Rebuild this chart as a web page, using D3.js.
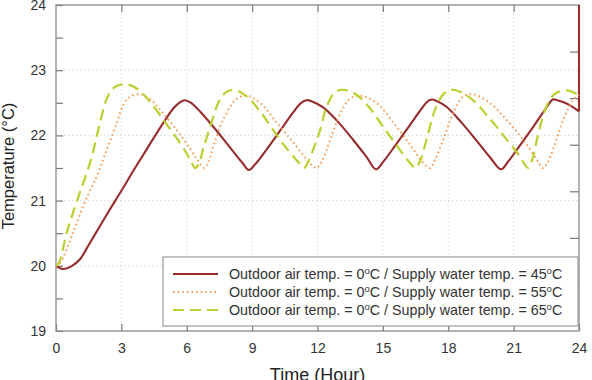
<!DOCTYPE html>
<meta charset="utf-8">
<style>
body { margin: 0; background: #fff; }
text { font-family: "Liberation Sans", Arial, sans-serif; }
.grid line { stroke: #d9d9d9; stroke-dasharray: 1.5,2.5; }
</style>
<body>
<script src="https://cdn.jsdelivr.net/npm/d3@7/dist/d3.min.js"></script>
<script>

// time (hour) and room temperature (°C)
var hours45 = [0, 0.35, 0.7, 1.1, 1.5, 2.0, 2.5, 3.0, 3.5, 4.0, 4.5, 5.0, 5.4, 5.7, 5.9, 6.2, 6.6, 7.2, 7.9, 8.55, 8.85,
    9.15, 9.7, 10.3, 10.9, 11.25, 11.5, 11.75, 12.26, 12.88, 13.64, 14.25, 14.68, 15.05, 15.6, 16.2, 16.8, 17.05, 17.25,
    17.45, 17.92, 18.6, 19.3, 19.95, 20.42, 20.75, 21.3, 21.9, 22.45, 22.8, 23.0, 23.43, 24, 24];
var temp45 = [20.0, 19.95, 19.99, 20.1, 20.32, 20.6, 20.88, 21.15, 21.43, 21.7, 21.97, 22.23, 22.42, 22.51, 22.54,
    22.5, 22.37, 22.14, 21.85, 21.58, 21.47, 21.56, 21.8, 22.08, 22.36, 22.5, 22.54, 22.52, 22.43, 22.23, 21.93, 21.67,
    21.48, 21.61, 21.86, 22.14, 22.42, 22.52, 22.55, 22.53, 22.44, 22.2, 21.92, 21.65, 21.48, 21.6, 21.85, 22.13, 22.4,
    22.55, 22.54, 22.49, 22.37, 24];

var hours55 = [0, 0.2, 0.75, 1.28, 1.9, 2.35, 2.8, 3.1, 3.43, 3.9, 4.35, 4.77, 5.54, 6.15, 6.5, 6.8, 7.0, 7.25, 7.7,
    8.25, 8.75, 9.36, 10.12, 10.89, 11.5, 11.75, 11.96, 12.2, 12.6, 13.05, 13.49, 13.94, 14.7, 15.47, 16.24, 16.85,
    17.16, 17.4, 17.8, 18.25, 18.7, 19.14, 19.9, 20.67, 21.44, 22.05, 22.35, 22.55, 22.85, 23.3, 23.73, 24];
var temp55 = [20.0, 20.05, 20.48, 20.94, 21.4, 21.8, 22.2, 22.48, 22.6, 22.63, 22.55, 22.4, 22.08, 21.8, 21.62, 21.5,
    21.6, 21.87, 22.26, 22.55, 22.61, 22.5, 22.2, 21.89, 21.63, 21.54, 21.5, 21.6, 21.95, 22.34, 22.56, 22.61, 22.5,
    22.2, 21.86, 21.58, 21.5, 21.63, 21.96, 22.36, 22.6, 22.63, 22.5, 22.24, 21.93, 21.64, 21.5, 21.58, 21.82, 22.26,
    22.54, 22.62];

var hours65 = [0, 0.14, 0.52, 1.05, 1.6, 1.95, 2.35, 2.65, 2.97, 3.3, 3.7, 4.04, 4.4, 5.08, 5.7, 6.0, 6.2, 6.38, 6.55,
    6.76, 7.14, 7.45, 7.8, 8.13, 8.75, 9.36, 9.97, 10.58, 11.2, 11.38, 11.55, 11.8, 12.1, 12.42, 12.8, 13.18, 13.8,
    14.4, 15.0, 15.6, 16.24, 16.5, 16.7, 17.0, 17.4, 17.8, 18.2, 18.99, 19.9, 20.67, 21.28, 21.5, 21.67, 21.85, 22.1,
    22.5, 22.9, 23.43, 24];
var temp65 = [20.0, 20.05, 20.54, 21.08, 21.62, 22.1, 22.58, 22.73, 22.78, 22.78, 22.72, 22.62, 22.48, 22.17, 21.88,
    21.72, 21.6, 21.5, 21.56, 21.8, 22.2, 22.5, 22.66, 22.7, 22.6, 22.37, 22.08, 21.8, 21.56, 21.5, 21.58, 21.78, 22.06,
    22.44, 22.66, 22.7, 22.62, 22.42, 22.14, 21.86, 21.58, 21.5, 21.6, 21.93, 22.4, 22.64, 22.7, 22.58, 22.26, 21.94,
    21.68, 21.56, 21.5, 21.62, 21.98, 22.44, 22.64, 22.69, 22.62];

var supplyTemps = ["45", "55", "65"];
var xTicks = [0, 3, 6, 9, 12, 15, 18, 21, 24];
var yTicks = [19, 20, 21, 22, 23, 24];

var series = [
    {key: supplyTemps[0], hours: hours45, temps: temp45, color: "#962c2c", dash: null, width: 2.1},
    {key: supplyTemps[1], hours: hours55, temps: temp55, color: "#f59c55", dash: "1.6,3", width: 2},
    {key: supplyTemps[2], hours: hours65, temps: temp65, color: "#bccf2e", dash: "11,6", width: 2.2}
];

var W = 592, H = 380;
var margin = {top: 5, right: 13, bottom: 49, left: 56},
    width = W - margin.left - margin.right,
    height = H - margin.top - margin.bottom;

var x = d3.scaleLinear().domain([0, 24]).range([0, width]);
var y = d3.scaleLinear().domain([19, 24]).range([height, 0]);
var yRight = d3.scaleLinear().domain([0, 7]).range([height, 0]);

var svg = d3.select("body").append("svg")
    .attr("width", W)
    .attr("height", H)
  .append("g")
    .attr("transform", "translate(" + margin.left + "," + margin.top + ")");

// grid
var grid = svg.append("g").attr("class", "grid");
grid.selectAll(".gx").data(xTicks.slice(1, -1)).enter().append("line")
    .attr("x1", d => x(d)).attr("x2", d => x(d))
    .attr("y1", 0).attr("y2", height);
grid.selectAll(".gy").data(yTicks.slice(1, -1)).enter().append("line")
    .attr("y1", d => y(d)).attr("y2", d => y(d))
    .attr("x1", 0).attr("x2", width);

// axes, ticks inward
function styleAxis(g) {
    g.select(".domain").remove();
    g.selectAll(".tick line").attr("stroke", "#777").attr("stroke-width", 1.2);
    g.selectAll(".tick text").attr("fill", "#333").style("font-size", "14px");
}

svg.append("g")
    .attr("transform", "translate(0," + height + ")")
    .call(d3.axisBottom(x).tickValues(xTicks).tickSizeInner(-7).tickSizeOuter(0).tickPadding(12))
    .call(styleAxis);

svg.append("g")
    .call(d3.axisTop(x).tickValues(xTicks.slice(1, -1)).tickSizeInner(-7).tickSizeOuter(0).tickFormat(""))
    .call(styleAxis);

svg.append("g")
    .call(d3.axisLeft(y).ticks(10).tickSizeInner(-7).tickSizeOuter(0).tickPadding(10)
        .tickFormat(d => Number.isInteger(d) ? d : ""))
    .call(styleAxis);

svg.append("g")
    .attr("transform", "translate(" + width + ",0)")
    .call(d3.axisRight(yRight).tickValues([1, 2, 3, 4, 5, 6]).tickSizeInner(-9).tickSizeOuter(0).tickFormat(""))
    .call(styleAxis);

// frame
svg.append("rect")
    .attr("width", width).attr("height", height)
    .attr("fill", "none").attr("stroke", "#8a8a8a").attr("stroke-width", 1.3);

// lines
var line = d3.line()
    .x(d => x(d[0]))
    .y(d => y(d[1]))
    .curve(d3.curveCatmullRom.alpha(0.5));
var straight = d3.line()
    .x(d => x(d[0]))
    .y(d => y(d[1]));

series.forEach(function (s) {
    var pts = d3.zip(s.hours, s.temps);
    // a jump at the very end (same hour twice) is drawn straight
    var n = pts.length;
    var tail = (n > 1 && pts[n - 1][0] === pts[n - 2][0]) ? pts.slice(n - 2) : null;
    var body = tail ? pts.slice(0, n - 1) : pts;
    [[body, line], [tail, straight]].forEach(function (p) {
        if (!p[0]) return;
        svg.append("path")
            .datum(p[0])
            .attr("fill", "none")
            .attr("stroke", s.color)
            .attr("stroke-width", s.width)
            .attr("stroke-dasharray", s.dash)
            .attr("d", p[1]);
    });
});

// axis titles
svg.append("text")
    .attr("transform", "rotate(-90)")
    .attr("x", -height / 2 + 2)
    .attr("y", 14 - margin.left)
    .attr("text-anchor", "middle")
    .attr("fill", "#222")
    .style("font-size", "16.5px")
    .text("Temperature (°C)");

svg.append("text")
    .attr("x", width / 2)
    .attr("y", height + 50)
    .attr("text-anchor", "middle")
    .attr("fill", "#222")
    .style("font-size", "18px")
    .text("Time (Hour)");

// legend
var legend = svg.append("g").attr("transform", "translate(" + (163 - margin.left) + "," + (257 - margin.top) + ")");
legend.append("rect")
    .attr("width", 415).attr("height", 69)
    .attr("fill", "#fff").attr("stroke", "#999").attr("stroke-width", 1.2);

var rows = legend.selectAll(".row").data(series).enter().append("g")
    .attr("transform", (d, i) => "translate(0," + (17 + i * 18) + ")");
rows.append("line")
    .attr("x1", 10).attr("x2", 55)
    .attr("stroke", d => d.color)
    .attr("stroke-width", d => d.width)
    .attr("stroke-dasharray", d => d.dash);
var label = rows.append("text")
    .attr("x", 66).attr("dy", "0.36em")
    .attr("fill", "#333")
    .style("font-size", "14.3px");
label.append("tspan").text("Outdoor air temp. = 0");
label.append("tspan").attr("dy", -5).style("font-size", "9.5px").text("o");
label.append("tspan").attr("dy", 5).text(d => "C / Supply water temp. = " + d.key);
label.append("tspan").attr("dy", -5).style("font-size", "9.5px").text("o");
label.append("tspan").attr("dy", 5).text("C");

</script>
</body>
